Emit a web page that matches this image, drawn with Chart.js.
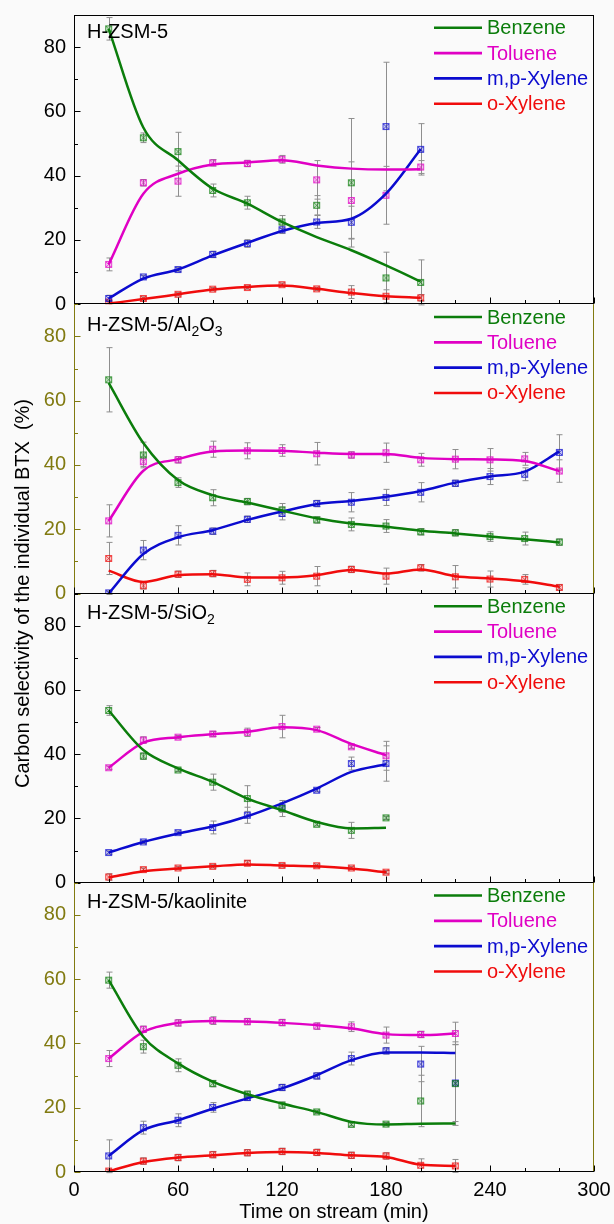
<!DOCTYPE html>
<html>
<head>
<meta charset="utf-8">
<script src="https://cdn.jsdelivr.net/npm/chart.js@4.4.1/dist/chart.umd.min.js"></script>
<style>
html,body{margin:0;padding:0;background:#fafafa;}
#wrap{position:relative;width:614px;height:1224px;}
canvas{display:block;}
</style>
</head>
<body>
<div id="wrap"><canvas id="c" width="614" height="1224"></canvas></div>
<script>
// ---------- DATA ----------
const seriesNames = ['Benzene', 'Toluene', 'm,p-Xylene', 'o-Xylene'];
const xTickValues = [0, 60, 120, 180, 240, 300];
const yTickValues = [0, 20, 40, 60, 80];
const xTitle = 'Time on stream (min)';
const yTitle = 'Carbon selectivity of the individual BTX  (%)';

// Panel 1: H-ZSM-5
const timeA = [20, 40, 60, 80, 100, 120, 140, 160, 180, 200];
const benzA = [85.7, 51.8, 47.5, 35.4, 31.6, 25.6, 30.8, 37.8, 8.2, 6.8];
const benzAErr = [3.5, 1.5, 6, 2, 2, 2, 3, 20, 8, 7];
const benzAFit = [85.7, 55, 44.8, 36, 31.3, 25.6, 20.9, 16.8, 12.1, 7.1];
const tolA = [12.4, 37.8, 38.3, 44, 43.8, 45.1, 38.7, 32.3, 33.9, 42.7];
const tolAErr = [2, 1, 4.7, 1, 1, 1.2, 6, 12, 9, 2];
const tolAFit = [12.4, 34.4, 40.6, 43.5, 44.1, 44.8, 43.2, 42.2, 41.9, 42];
const mpA = [1.8, 8.5, 10.8, 15.5, 18.9, 23.2, 25.6, 25.5, 55.3, 48.2];
const mpAErr = [1, 0.5, 0.7, 1, 1.2, 1.2, 2, 5, 20, 8];
const mpAFit = [1.8, 8, 10.8, 15.2, 19.1, 22.8, 25.3, 26.6, 34.4, 48.2];
const oA = [0.7, 1.8, 3.1, 4.7, 5.2, 6.1, 4.8, 3.8, 2.5, 2];
const oAErr = [0.5, 0.5, 0.5, 0.5, 0.5, 0.5, 0.5, 2, 2, 1];
const oAFit = [0.2, 1.6, 3.1, 4.6, 5.4, 5.8, 4.8, 3.5, 2.5, 2];

// Panel 2: H-ZSM-5/Al2O3
const timeB = [20, 40, 60, 80, 100, 120, 140, 160, 180, 200, 220, 240, 260, 280];
const benzB = [66.5, 43.1, 34.5, 29.8, 28.6, 26, 22.9, 21.5, 21, 19.2, 18.9, 17.7, 17.1, 16];
const benzBErr = [10, 4, 1.5, 2.5, 1, 2, 1, 2, 2, 1, 1, 1.5, 2, 1];
const benzBFit = [65.5, 46.8, 35.3, 30.6, 28.3, 25.8, 23.4, 21.8, 20.8, 19.5, 18.7, 17.7, 16.9, 15.9];
const tolB = [22.6, 41, 41.6, 44.9, 44.4, 44.5, 43.5, 43.1, 43.8, 41.6, 41.8, 41.6, 41.9, 38.1];
const tolBErr = [5, 1.5, 1, 2.5, 2.5, 1.8, 3.5, 1, 3, 2, 3, 3.5, 2, 3.5];
const tolBFit = [22.6, 38.2, 41.8, 44.2, 44.5, 44.4, 43.8, 43.4, 43.4, 42.2, 41.8, 41.7, 41.2, 38.1];
const mpB = [0.2, 13.5, 18.1, 19.4, 23.1, 24.9, 28, 28.4, 29.9, 31.5, 34.3, 36.4, 37.1, 43.9];
const mpBErr = [0.5, 3, 3, 1, 1, 2, 1, 3, 2.5, 3, 1, 2.5, 2, 5.5];
const mpBFit = [0, 12.3, 17.5, 19.7, 22.9, 25.5, 27.8, 28.8, 30.1, 31.9, 34.5, 36.4, 37.9, 44.2];
const oB = [10.9, 2.4, 6, 6.2, 4.4, 4.9, 5.4, 7.5, 5.4, 8, 5.2, 4.5, 4.4, 1.9];
const oBErr = [5, 1, 1, 1, 2, 2, 3, 1, 2.5, 1, 3.5, 2.5, 1.5, 0.8];
const oBFit = [7.1, 3.6, 5.7, 6, 5, 5, 5.7, 7.3, 6.2, 7.5, 5.4, 4.7, 3.8, 2.1];

// Panel 3: H-ZSM-5/SiO2
const timeC = [20, 40, 60, 80, 100, 120, 140, 160, 180];
const benzC = [53.6, 39.4, 35.1, 31.3, 26.2, 23.1, 18.2, 16.3, 20.2];
const benzCErr = [1.5, 1, 0.5, 2.5, 4, 2.5, 0.5, 2.5, 0.5];
const benzCFit = [53.6, 41.3, 35.6, 31.4, 26.2, 22.6, 18.9, 16.9, 17.1];
const tolC = [35.8, 44.4, 45.3, 46.3, 46.8, 48.6, 47.8, 42.3, 39.5];
const tolCErr = [0.5, 1, 0.5, 0.8, 1.3, 3.5, 0.5, 0.5, 4.5];
const tolCFit = [35.8, 43.6, 45.3, 46.2, 47, 48.4, 47.5, 43.2, 39.7];
const mpC = [9.4, 12.7, 15.6, 17.2, 21, 23.4, 28.8, 37.1, 37.1];
const mpCErr = [0.5, 0.5, 0.5, 2, 2.5, 1.5, 0.5, 2, 5.5];
const mpCFit = [9.4, 12.7, 15.3, 17.6, 20.7, 24.7, 29.3, 34.5, 36.9];
const oC = [1.8, 4.1, 4.6, 5.1, 6.1, 5.4, 5.3, 4.6, 3.3];
const oCErr = [1, 0.5, 0.5, 0.5, 0.8, 0.5, 0.5, 0.5, 0.5];
const oCFit = [1.6, 3.6, 4.4, 5.1, 5.7, 5.4, 5.1, 4.4, 3.3];

// Panel 4: H-ZSM-5/kaolinite
const timeD = [20, 40, 60, 80, 100, 120, 140, 160, 180, 200, 220];
const benzD = [59.7, 39, 33.2, 27.5, 24.2, 20.8, 18.7, 14.8, 14.9, 22.1, 27.5];
const benzDErr = [2.5, 2, 2, 1, 1, 1, 0.5, 0.5, 0.5, 8, 13];
const benzDFit = [59.7, 42.1, 33.8, 28.1, 24.2, 21.3, 18.7, 15.6, 14.8, 15, 15.1];
const tolD = [35.3, 44.4, 46.4, 47.1, 46.8, 46.5, 45.4, 45.2, 42.6, 42.8, 43.1];
const tolDErr = [2.5, 1, 1, 1.2, 1, 1, 1, 1.5, 2.5, 1, 3.5];
const tolDFit = [35.3, 43.6, 46.4, 47, 46.8, 46.4, 45.7, 44.7, 42.9, 42.6, 43.1];
const mpD = [5, 13.8, 16.1, 20.1, 23.2, 26.3, 29.9, 35.3, 37.7, 33.6, 27.7];
const mpDErr = [5, 2, 2, 1.5, 1, 1, 1, 2, 1, 5.5, 12];
const mpDFit = [5, 13, 16.1, 19.7, 22.9, 26, 30.1, 34.8, 37.2, 37.2, 37];
const oD = [0.3, 3.4, 4.5, 5.4, 6, 6.4, 6.1, 5.2, 5, 2.1, 1.9];
const oDErr = [0.5, 1, 1, 1, 1, 1, 1, 1, 1, 2, 2];
const oDFit = [0.2, 3.1, 4.5, 5.2, 5.9, 6.2, 5.9, 5.2, 4.7, 2.3, 1.9];

// Panel labels (text parts, second item = subscript flag)
const labelA = [['H-ZSM-5', 0]];
const labelB = [['H-ZSM-5/Al', 0], ['2', 1], ['O', 0], ['3', 1]];
const labelC = [['H-ZSM-5/SiO', 0], ['2', 1]];
const labelD = [['H-ZSM-5/kaolinite', 0]];

// ---------- STYLE ----------
const FONT = "'Liberation Sans', Arial, Helvetica, sans-serif";
const seriesColors = ['#0b7d0b', '#e000c4', '#0b0bcf', '#f00c0c'];
const OLIVE = '#817a10';
const panelAxisColors = ['#000000', OLIVE, '#000000', OLIVE];

const panels = [
  { id: 'y1', time: timeA, vals: [benzA, tolA, mpA, oA], errs: [benzAErr, tolAErr, mpAErr, oAErr], fits: [benzAFit, tolAFit, mpAFit, oAFit], label: labelA, labelDy: 23 },
  { id: 'y2', time: timeB, vals: [benzB, tolB, mpB, oB], errs: [benzBErr, tolBErr, mpBErr, oBErr], fits: [benzBFit, tolBFit, mpBFit, oBFit], label: labelB, labelDy: 27 },
  { id: 'y3', time: timeC, vals: [benzC, tolC, mpC, oC], errs: [benzCErr, tolCErr, mpCErr, oCErr], fits: [benzCFit, tolCFit, mpCFit, oCFit], label: labelC, labelDy: 25 },
  { id: 'y4', time: timeD, vals: [benzD, tolD, mpD, oD], errs: [benzDErr, tolDErr, mpDErr, oDErr], fits: [benzDFit, tolDFit, mpDFit, oDFit], label: labelD, labelDy: 25 }
];

function hexA(hex, a) {
  const r = parseInt(hex.slice(1, 3), 16), g = parseInt(hex.slice(3, 5), 16), b = parseInt(hex.slice(5, 7), 16);
  return 'rgba(' + r + ',' + g + ',' + b + ',' + a + ')';
}
function makeMarker(color) {
  const c = document.createElement('canvas');
  c.width = 9; c.height = 9;
  const g = c.getContext('2d');
  g.fillStyle = hexA(color, 0.18);
  g.fillRect(1, 1, 7, 7);
  g.strokeStyle = hexA(color, 0.7);
  g.lineWidth = 1;
  g.strokeRect(1.5, 1.5, 6, 6);
  g.beginPath();
  g.moveTo(2, 2); g.lineTo(7, 7);
  g.moveTo(7, 2); g.lineTo(2, 7);
  g.stroke();
  return c;
}
const markers = seriesColors.map(makeMarker);

// ---------- DATASETS ----------
const fitSets = [], pointSets = [];
panels.forEach((p) => {
  for (let s = 0; s < 4; s++) {
    fitSets.push({
      label: seriesNames[s] + ' fit',
      yAxisID: p.id,
      data: p.time.map((t, i) => ({ x: t, y: p.fits[s][i] })),
      showLine: true,
      borderColor: seriesColors[s],
      borderWidth: 2.5,
      pointRadius: 0,
      cubicInterpolationMode: 'monotone',
      fill: false
    });
    pointSets.push({
      label: seriesNames[s],
      yAxisID: p.id,
      data: p.time.map((t, i) => ({ x: t, y: p.vals[s][i] })),
      errors: p.errs[s],
      showLine: false,
      pointStyle: markers[s],
      pointRadius: 4,
      borderColor: seriesColors[s],
      backgroundColor: seriesColors[s]
    });
  }
});

// ---------- PLUGIN: frames, ticks, error bars, legends, labels ----------
const panelPlugin = {
  id: 'panelPlugin',
  beforeDatasetsDraw(chart) {
    const ctx = chart.ctx, xs = chart.scales.x;
    ctx.save();
    ctx.strokeStyle = '#8e8e8e';
    ctx.lineWidth = 1;
    chart.data.datasets.forEach((ds) => {
      if (!ds.errors) return;
      const ys = chart.scales[ds.yAxisID];
      ds.data.forEach((pt, i) => {
        const e = ds.errors[i];
        const x = Math.round(xs.getPixelForValue(pt.x)) + 0.5;
        const yTop = ys.getPixelForValue(pt.y + e), yBot = ys.getPixelForValue(pt.y - e);
        ctx.beginPath();
        ctx.moveTo(x, yTop); ctx.lineTo(x, yBot);
        ctx.moveTo(x - 3, yTop); ctx.lineTo(x + 3, yTop);
        ctx.moveTo(x - 3, yBot); ctx.lineTo(x + 3, yBot);
        ctx.stroke();
      });
    });
    ctx.restore();
  },
  afterDraw(chart) {
    const ctx = chart.ctx, ca = chart.chartArea, xs = chart.scales.x;
    const L = Math.round(ca.left) + 0.5, R = Math.round(ca.right) - 0.5;
    ctx.save();
    panels.forEach((p, k) => {
      const ys = chart.scales[p.id];
      const top = ys.top, bot = ys.bottom;
      const col = panelAxisColors[k];
      ctx.lineWidth = 1;
      ctx.strokeStyle = col;
      ctx.beginPath();
      ctx.moveTo(L, top); ctx.lineTo(L, bot);
      ctx.moveTo(R, top); ctx.lineTo(R, bot);
      ctx.stroke();
      for (let v = 0; v <= 90; v += 10) {
        const y = Math.round(ys.getPixelForValue(v)) + 0.5;
        const len = (v % 20 === 0) ? 6 : 3.5;
        ctx.beginPath(); ctx.moveTo(L, y); ctx.lineTo(L + len, y); ctx.stroke();
      }
      ctx.strokeStyle = '#000';
      const yb = Math.round(bot) - 0.5;
      ctx.beginPath(); ctx.moveTo(L - 0.5, yb); ctx.lineTo(R + 0.5, yb); ctx.stroke();
      for (let v = 0; v <= 300; v += 20) {
        const x = Math.round(xs.getPixelForValue(v)) + 0.5;
        const len = (v % 60 === 0) ? 6 : 3.5;
        ctx.beginPath(); ctx.moveTo(x, yb); ctx.lineTo(x, yb - len); ctx.stroke();
      }
      if (k === 0) {
        const yt = Math.round(top) + 0.5;
        ctx.beginPath(); ctx.moveTo(L - 0.5, yt); ctx.lineTo(R + 0.5, yt); ctx.stroke();
      }
      let tx = ca.left + 13;
      const base = top + p.labelDy;
      ctx.fillStyle = '#000';
      ctx.textBaseline = 'alphabetic';
      ctx.textAlign = 'left';
      p.label.forEach(([txt, sub]) => {
        ctx.font = (sub ? '14px ' : '20px ') + FONT;
        ctx.fillText(txt, tx, sub ? base + 5 : base);
        tx += ctx.measureText(txt).width;
      });
      ctx.font = '20px ' + FONT;
      ctx.textBaseline = 'middle';
      for (let s = 0; s < 4; s++) {
        const y = top + 12.8 + s * 25.3;
        ctx.strokeStyle = seriesColors[s];
        ctx.lineWidth = 2.6;
        ctx.beginPath(); ctx.moveTo(ca.right - 160, y); ctx.lineTo(ca.right - 112, y); ctx.stroke();
        ctx.fillStyle = seriesColors[s];
        ctx.fillText(seriesNames[s], ca.right - 107, y + 1);
      }
    });
    ctx.fillStyle = '#000';
    ctx.font = '20px ' + FONT;
    ctx.textAlign = 'center';
    ctx.textBaseline = 'middle';
    ctx.translate(23, (ca.top + ca.bottom) / 2);
    ctx.rotate(-Math.PI / 2);
    ctx.fillText(yTitle, 0, 0);
    ctx.restore();
  }
};

// ---------- SCALES ----------
const scales = {
  x: {
    type: 'linear', position: 'bottom', min: 0, max: 300,
    afterBuildTicks: (sc) => { sc.ticks = xTickValues.map(v => ({ value: v })); },
    ticks: { font: { size: 20, family: FONT }, color: '#000', padding: 6, autoSkip: false, maxRotation: 0 },
    grid: { display: false, drawTicks: false },
    border: { display: false },
    title: { display: true, text: xTitle, font: { size: 20, family: FONT }, color: '#000', padding: 0 },
    afterFit: (sc) => { sc.height = 52; sc.paddingLeft = 0; sc.paddingRight = 0; }
  }
};
panels.forEach((p, k) => {
  scales[p.id] = {
    type: 'linear', position: 'left', stack: 'panels', stackWeight: 1, weight: 4 - k,
    min: 0, max: 90,
    afterBuildTicks: (sc) => { sc.ticks = yTickValues.map(v => ({ value: v })); },
    ticks: { font: { size: 20, family: FONT }, color: panelAxisColors[k], padding: 8, autoSkip: false },
    grid: { display: false, drawTicks: false },
    border: { display: false },
    afterFit: (sc) => { sc.width = 74; sc.paddingTop = 0; sc.paddingBottom = 0; }
  };
});

new Chart(document.getElementById('c'), {
  type: 'line',
  data: { datasets: fitSets.concat(pointSets) },
  options: {
    responsive: false,
    animation: false,
    devicePixelRatio: 1,
    layout: { padding: { left: 0, right: 20, top: 15, bottom: 0 } },
    plugins: { legend: { display: false }, tooltip: { enabled: false } },
    scales: scales
  },
  plugins: [panelPlugin]
});
</script>
</body>
</html>
